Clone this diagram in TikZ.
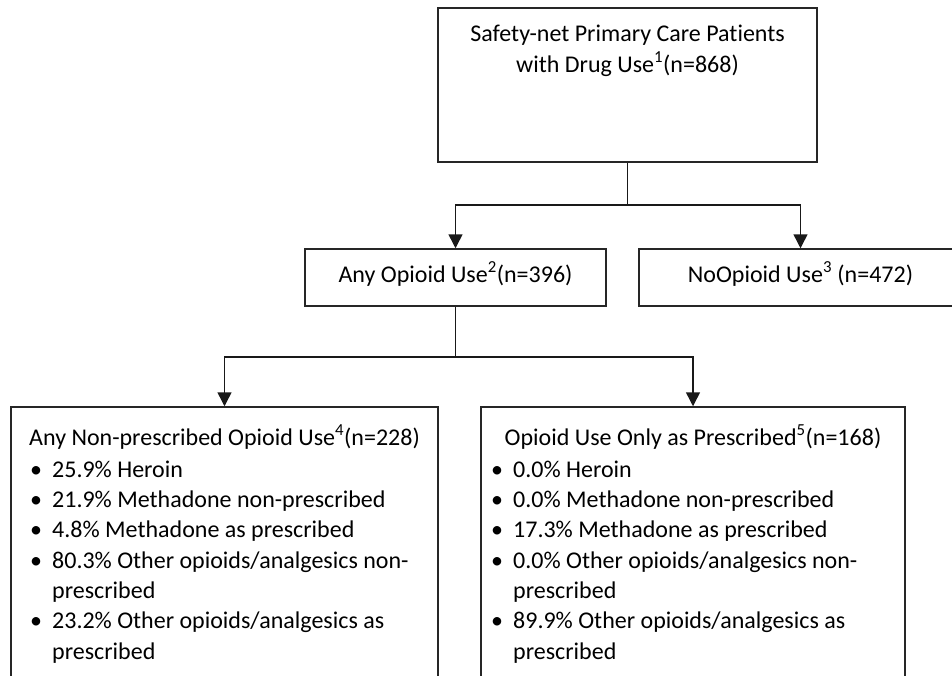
\documentclass[tikz,border=0pt]{standalone}
\usepackage{fontspec}
\setmainfont{Carlito}[Ligatures=NoCommon]
\usetikzlibrary{arrows.meta,positioning}
\newcommand{\blt}{\makebox[22pt][l]{\textbullet}}
\newcommand{\gap}{\hspace*{22pt}}

\begin{document}
\begin{tikzpicture}[x=1pt, y=-1pt,
  bx/.style={rectangle, draw=black!85, line width=1.5pt, inner sep=0pt, font=\fontsize{24}{30.3}\selectfont},
  tx/.style={inner sep=0pt, font=\fontsize{24}{30.3}\selectfont},
  ln/.style={black!90, line width=1.5pt},
  ar/.style={ln, -{Triangle[width=14pt,length=14pt]}}]
\useasboundingbox (0,0) rectangle (952,675);

% boxes
\node[bx, minimum width=379pt, minimum height=154pt] (all) at (627.5,85) {};
\node[bx, minimum width=301pt, text height=16pt, text depth=7pt, inner ysep=17pt] (any) at (455.5,277.5) {Any Opioid Use\textsuperscript{2}(n=396)};
\node[bx, minimum width=323pt, text height=16pt, text depth=7pt, inner ysep=17pt] (none) at (800.5,277.5) {NoOpioid Use\textsuperscript{3} (n=472)};
\node[bx, minimum width=427pt, minimum height=300pt] (nonrx) at (224.5,557) {};
\node[bx, minimum width=424pt, minimum height=300pt] (onlyrx) at (693,557) {};

% texts (base = last line)
\node[tx, align=center, anchor=base] (alltx) at (627.5,72) {Safety-net Primary Care Patients\\with Drug Use\textsuperscript{1}(n=868)};
\node[tx, anchor=base] (nonrxhd) at (224.5,445) {Any Non-prescribed Opioid Use\textsuperscript{4}(n=228)};
\node[tx, anchor=base] (onlyrxhd) at (693,445) {Opioid Use Only as Prescribed\textsuperscript{5}(n=168)};
\node[tx, align=left, anchor=base west] (nonrxls) at (30,659) {\blt 25.9\% Heroin\\
  \blt 21.9\% Methadone non-prescribed\\
  \blt 4.8\% Methadone as prescribed\\
  \blt 80.3\% Other opioids/analgesics non-\\
  \gap prescribed\\
  \blt 23.2\% Other opioids/analgesics as\\
  \gap prescribed};
\node[tx, align=left, anchor=base west] (onlyrxls) at (491,659) {\blt 0.0\% Heroin\\
  \blt 0.0\% Methadone non-prescribed\\
  \blt 17.3\% Methadone as prescribed\\
  \blt 0.0\% Other opioids/analgesics non-\\
  \gap prescribed\\
  \blt 89.9\% Other opioids/analgesics as\\
  \gap prescribed};

% connectors
\coordinate (j1) at (627.5,205);
\coordinate (j2) at (455.5,357);
\draw[ln] (all.south) -- (j1);
\draw[ar] (j1) -| (any.north);
\draw[ar] (j1) -| (none.north);
\draw[ln] (any.south) -- (j2);
\draw[ar] (j2) -| (nonrx.north);
\draw[ar] (j2) -| (onlyrx.north);
\end{tikzpicture}
\end{document}
